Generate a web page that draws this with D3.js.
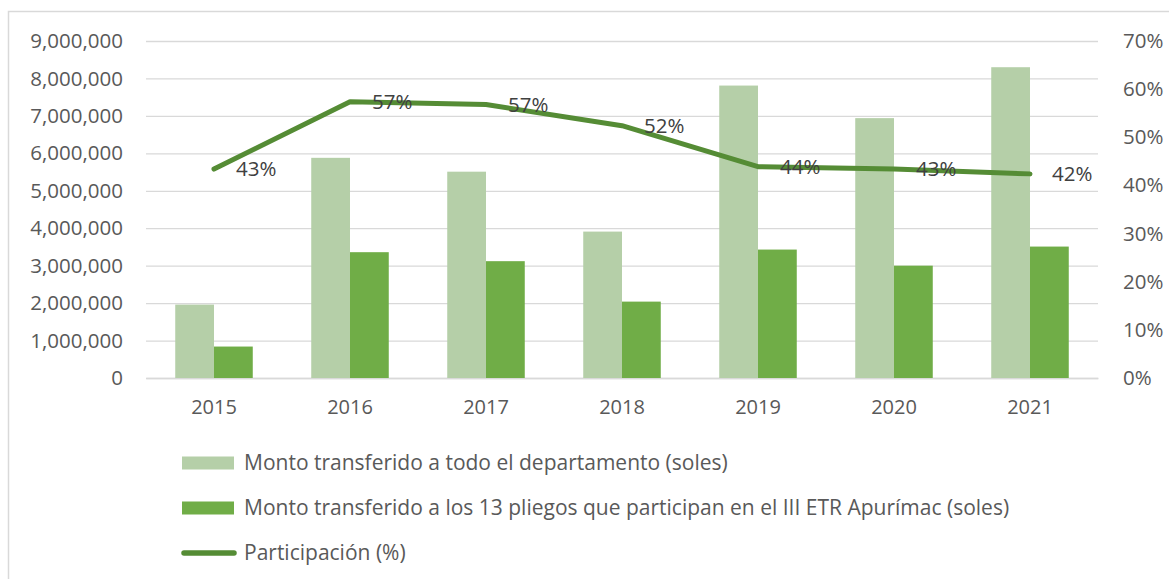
<!DOCTYPE html>
<html>
<head>
<meta charset="utf-8">
<script src="https://cdn.jsdelivr.net/npm/d3@7"></script>
<style>
  body { margin: 0; background: #fff; }
  svg { display: block; font-family: 'Open Sans', sans-serif; }
</style>
</head>
<body>
<svg id="chart" width="1169" height="579"></svg>
<script>
const years = ['2015', '2016', '2017', '2018', '2019', '2020', '2021'];
const montoDepartamento = [1960000, 5880000, 5510000, 3910000, 7810000, 6940000, 8300000];
const montoPliegos = [840000, 3360000, 3120000, 2040000, 3430000, 3000000, 3510000];
const participacion = [0.434, 0.574, 0.568, 0.524, 0.439, 0.434, 0.424];
const leftTicks = [0, 1000000, 2000000, 3000000, 4000000, 5000000, 6000000, 7000000, 8000000, 9000000];
const rightTicks = [0, 0.1, 0.2, 0.3, 0.4, 0.5, 0.6, 0.7];
const legendLabels = [
  'Monto transferido a todo el departamento (soles)',
  'Monto transferido a los 13 pliegos que participan en el III ETR Apurímac (soles)',
  'Participación (%)'
];

const colorLight = '#b5cfa8';
const colorDark = '#70ad47';
const colorLine = '#558c35';
const gridColor = '#d9d9d9';
const textColor = '#595959';

const margin = { top: 41, right: 71, bottom: 201, left: 146 };
const width = 1169 - margin.left - margin.right;
const height = 579 - margin.top - margin.bottom;

const svg = d3.select('#chart');

// chart area frame (runs off the right and bottom edges)
svg.append('rect')
  .attr('x', 8.5)
  .attr('y', 11.5)
  .attr('width', 1300)
  .attr('height', 700)
  .attr('fill', 'none')
  .attr('stroke', gridColor)
  .attr('stroke-width', 1.5);

const g = svg.append('g')
  .attr('transform', `translate(${margin.left},${margin.top})`);

const x = d3.scaleBand()
  .domain(years)
  .range([0, width])
  .paddingInner(0.43)
  .paddingOuter(0.215);

const yLeft = d3.scaleLinear().domain([0, 9000000]).range([height, 0]);
const yRight = d3.scaleLinear().domain([0, 0.7]).range([height, 0]);

// gridlines
const yGrid = d3.axisLeft(yLeft).tickValues(leftTicks).tickSize(-width).tickFormat('');
const grid = g.append('g').call(yGrid);
grid.select('.domain').remove();
grid.selectAll('.tick line').attr('stroke', gridColor).attr('stroke-width', 1.3);

// left axis labels
const yAxisLeft = d3.axisLeft(yLeft).tickValues(leftTicks).tickSize(0).tickPadding(23).tickFormat(d3.format(','));
const la = g.append('g').call(yAxisLeft);
la.select('.domain').remove();
la.selectAll('.tick text')
  .attr('fill', textColor)
  .style('font-size', '20.5px')
  .style('font-family', "'Open Sans', sans-serif");

// right axis labels
const yAxisRight = d3.axisRight(yRight).tickValues(rightTicks).tickSize(0).tickPadding(25).tickFormat(d3.format('.0%'));
const ra = g.append('g').attr('transform', `translate(${width},0)`).call(yAxisRight);
ra.select('.domain').remove();
ra.selectAll('.tick text')
  .attr('fill', textColor)
  .style('font-size', '20.5px')
  .style('font-family', "'Open Sans', sans-serif");

// x axis
const xAxis = d3.axisBottom(x).tickSize(0).tickPadding(22);
const xa = g.append('g').attr('transform', `translate(0,${height})`).call(xAxis);
xa.select('.domain').attr('stroke', gridColor).attr('stroke-width', 1.3);
xa.selectAll('.tick text')
  .attr('fill', textColor)
  .style('font-size', '20px')
  .style('font-family', "'Open Sans', sans-serif");

// bars
const half = x.bandwidth() / 2;
g.append('g').selectAll('rect')
  .data(years)
  .join('rect')
  .attr('x', (d) => x(d))
  .attr('y', (d, i) => yLeft(montoDepartamento[i]))
  .attr('width', half)
  .attr('height', (d, i) => height - yLeft(montoDepartamento[i]))
  .attr('fill', colorLight);

g.append('g').selectAll('rect')
  .data(years)
  .join('rect')
  .attr('x', (d) => x(d) + half)
  .attr('y', (d, i) => yLeft(montoPliegos[i]))
  .attr('width', half)
  .attr('height', (d, i) => height - yLeft(montoPliegos[i]))
  .attr('fill', colorDark);

// participation line
const line = d3.line()
  .x((d, i) => x(years[i]) + half)
  .y((d) => yRight(d));

g.append('path')
  .datum(participacion)
  .attr('fill', 'none')
  .attr('stroke', colorLine)
  .attr('stroke-width', 5)
  .attr('stroke-linejoin', 'round')
  .attr('stroke-linecap', 'round')
  .attr('d', line);

g.append('g').selectAll('text')
  .data(participacion)
  .join('text')
  .attr('x', (d, i) => x(years[i]) + half + 22)
  .attr('y', (d) => yRight(d))
  .attr('dy', '0.35em')
  .attr('fill', '#404040')
  .style('font-size', '20.5px')
  .text(d3.format('.0%'));

// legend
const legend = svg.append('g').attr('transform', 'translate(182,463)');
const rowH = 45;

legendLabels.forEach((label, i) => {
  const row = legend.append('g').attr('transform', `translate(0,${i * rowH})`);
  if (i < 2) {
    row.append('rect')
      .attr('x', 0)
      .attr('y', -6.5)
      .attr('width', 52)
      .attr('height', 13)
      .attr('fill', i === 0 ? colorLight : colorDark);
  } else {
    row.append('line')
      .attr('x1', 2)
      .attr('x2', 52)
      .attr('y1', 0)
      .attr('y2', 0)
      .attr('stroke', colorLine)
      .attr('stroke-width', 5.5)
      .attr('stroke-linecap', 'round');
  }
  row.append('text')
    .attr('x', 62)
    .attr('y', 0)
    .attr('dy', '0.35em')
    .attr('fill', textColor)
    .style('font-size', '21px')
    .text(label);
});
</script>
</body>
</html>
